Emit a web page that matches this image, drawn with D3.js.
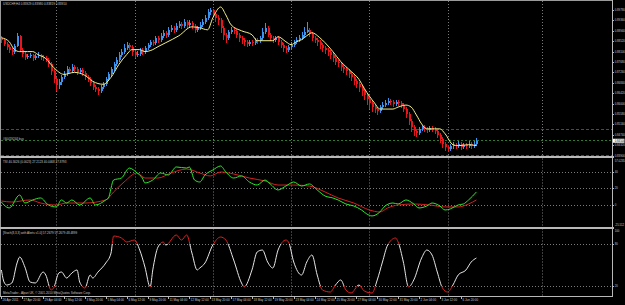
<!DOCTYPE html>
<html><head><meta charset="utf-8">
<script src="https://cdn.jsdelivr.net/npm/d3@7"></script>
<style>html,body{margin:0;padding:0;background:#000;overflow:hidden}svg{display:block}</style>
</head><body>
<svg id="c" width="625" height="305"></svg>
<script>
// ---------------- DATA ----------------
const chartTitle = "USDCHF,H4  0.83929 0.83980 0.83819 0.83910";
const tsiTitle = "TSI 40.3026 (0.0023) 27.2123 40.0468 27.8793";
const stochTitle = "[Stoch(8,3,3) with Alerts v1.0] 57.2679 57.2679 48.4899";
const footerText = "MetaTrader - Alpari UK, \u00a9 2001-2010 MetaQuotes Software Corp.";
const orderLabel = "#60419244 buy";

const firstOpen = .8866;
const closes = [
.8858,.8842,.8830,.8818,.8810,.8834,.8874,.8818,.8802,.8790,
.8794,.8798,.8786,.8794,.8798,.8790,.8786,.8778,.8758,.8730,
.8698,.8674,.8686,.8706,.8718,.8738,.8730,.8746,.8738,.8726,
.8734,.8722,.8706,.8698,.8682,.8666,.8658,.8650,.8666,.8678,
.8698,.8718,.8738,.8758,.8778,.8798,.8810,.8826,.8838,.8830,
.8810,.8798,.8802,.8818,.8810,.8826,.8838,.8850,.8846,.8866,
.8858,.8874,.8886,.8878,.8898,.8906,.8898,.8914,.8922,.8914,
.8930,.8918,.8926,.8914,.8898,.8906,.8918,.8930,.8946,.8970,
.8978,.8962,.8946,.8938,.8906,.8878,.8866,.8890,.8898,.8894,
.8878,.8866,.8858,.8850,.8842,.8850,.8846,.8858,.8854,.8866,
.8890,.8906,.8878,.8866,.8858,.8866,.8850,.8838,.8826,.8818,
.8830,.8838,.8850,.8858,.8866,.8878,.8890,.8898,.8882,.8866,
.8858,.8850,.8838,.8826,.8818,.8810,.8798,.8786,.8770,.8762,
.8746,.8738,.8730,.8718,.8706,.8690,.8678,.8666,.8650,.8634,
.8618,.8602,.8586,.8578,.8570,.8586,.8594,.8602,.8610,.8606,
.8598,.8606,.8602,.8594,.8578,.8558,.8530,.8506,.8490,.8482,
.8498,.8506,.8498,.8494,.8502,.8498,.8490,.8474,.8458,.8438,
.8426,.8418,.8430,.8434,.8430,.8438,.8426,.8434,.8430,.8438,
.8430,.8438,.8450];
const highs = [
.8874,.8862,.8850,.8838,.8826,.8842,.8886,.8878,.8826,.8810,
.8802,.8806,.8802,.8802,.8810,.8802,.8798,.8794,.8786,.8766,
.8738,.8706,.8698,.8714,.8730,.8750,.8746,.8758,.8754,.8746,
.8742,.8742,.8730,.8714,.8706,.8690,.8674,.8666,.8674,.8686,
.8706,.8726,.8746,.8766,.8790,.8810,.8822,.8842,.8850,.8846,
.8838,.8818,.8814,.8826,.8826,.8834,.8846,.8858,.8858,.8874,
.8874,.8886,.8898,.8894,.8910,.8918,.8914,.8926,.8934,.8930,
.8942,.8938,.8938,.8934,.8922,.8914,.8930,.8942,.8958,.8982,
.8986,.8982,.8970,.8958,.8946,.8914,.8886,.8898,.8910,.8906,
.8902,.8886,.8874,.8866,.8858,.8858,.8858,.8866,.8866,.8874,
.8906,.8926,.8914,.8886,.8874,.8874,.8874,.8858,.8846,.8834,
.8838,.8850,.8858,.8870,.8878,.8890,.8910,.8930,.8906,.8890,
.8874,.8866,.8858,.8846,.8834,.8826,.8818,.8806,.8794,.8778,
.8770,.8754,.8746,.8738,.8726,.8714,.8698,.8686,.8674,.8658,
.8642,.8626,.8610,.8594,.8586,.8594,.8606,.8614,.8622,.8618,
.8614,.8614,.8614,.8610,.8602,.8586,.8566,.8538,.8514,.8498,
.8506,.8514,.8514,.8506,.8510,.8510,.8506,.8498,.8482,.8466,
.8446,.8434,.8438,.8446,.8442,.8450,.8446,.8442,.8442,.8450,
.8446,.8450,.8462];
const lows = [
.8846,.8834,.8818,.8806,.8798,.8802,.8830,.8810,.8790,.8778,
.8782,.8786,.8774,.8778,.8786,.8778,.8774,.8766,.8746,.8714,
.8682,.8650,.8658,.8674,.8698,.8710,.8718,.8722,.8726,.8714,
.8718,.8710,.8694,.8686,.8670,.8654,.8646,.8634,.8642,.8658,
.8670,.8690,.8710,.8730,.8750,.8770,.8790,.8802,.8818,.8818,
.8794,.8786,.8790,.8794,.8798,.8802,.8818,.8830,.8834,.8838,
.8846,.8850,.8866,.8866,.8870,.8890,.8886,.8890,.8906,.8902,
.8906,.8906,.8910,.8902,.8886,.8890,.8898,.8910,.8922,.8938,
.8958,.8950,.8930,.8918,.8886,.8858,.8846,.8858,.8882,.8882,
.8866,.8850,.8842,.8834,.8830,.8834,.8834,.8838,.8842,.8846,
.8858,.8882,.8870,.8854,.8846,.8850,.8838,.8826,.8810,.8806,
.8810,.8822,.8830,.8842,.8850,.8858,.8870,.8886,.8870,.8854,
.8846,.8834,.8822,.8810,.8802,.8794,.8782,.8770,.8754,.8746,
.8730,.8722,.8714,.8702,.8690,.8674,.8662,.8646,.8630,.8614,
.8594,.8578,.8566,.8562,.8554,.8562,.8578,.8586,.8594,.8594,
.8586,.8590,.8590,.8582,.8566,.8542,.8514,.8486,.8470,.8466,
.8474,.8490,.8486,.8482,.8486,.8486,.8478,.8462,.8442,.8422,
.8410,.8406,.8410,.8418,.8418,.8422,.8414,.8418,.8418,.8422,
.8418,.8422,.8430];

// yellow moving average (read at selected bars)
const maBars = [0,3,5,7,10,12,14,17,20,24,28,32,35,39,42,45,48,50,53,55,58,60,63,68,73,76,79,81,84,86,88,92,96,98,101,104,106,109,111,113,115,117,119,122,124,127,130,134,137,139,141,143,145,147,150,152,155,157,159,161,163,166,168,170,173,175,179,182];
const maValues = [.8866,.8850,.8818,.8810,.8810,.8810,.8798,.8782,.8746,.8718,.8726,.8714,.8690,.8678,.8706,.8758,.8798,.8818,.8818,.8810,.8818,.8830,.8846,.8874,.8910,.8906,.8898,.8946,.8990,.8958,.8918,.8894,.8878,.8854,.8854,.8854,.8870,.8850,.8838,.8850,.8858,.8874,.8886,.8866,.8846,.8810,.8770,.8730,.8698,.8662,.8630,.8602,.8578,.8578,.8578,.8586,.8594,.8586,.8554,.8518,.8498,.8498,.8498,.8478,.8434,.8430,.8434,.8430];

// TSI (green) and signal (red)
const tsiBars = [0,1,3,7,9,12,15,18,21,23,25,27,30,34,36,40,41,43,46,49,52,54,55,58,61,64,67,71,72,74,76,78,81,84,86,89,92,95,98,101,103,106,109,112,115,118,121,124,127,129,132,135,138,140,142,145,147,150,152,155,158,160,163,165,168,170,172,175,177,179,182];
const tsiValues = [3.6,0,-3.6,12.1,2.4,6.1,8.5,0,-2.4,6.1,2.4,6.1,0,8.5,0,6.1,8.5,30.3,32.7,44.8,38.8,32.7,26.7,30.3,38.8,36.4,46.1,44.8,46.1,30.3,27.9,36.4,42.4,47.3,40.0,32.7,35.2,27.9,24.2,30.3,25.5,18.2,23.0,27.9,23.0,25.5,18.2,10.9,8.5,6.1,1.2,-1.2,-6.1,-10.9,-13.3,-8.5,-1.2,2.4,1.2,6.1,1.2,-3.6,-1.2,2.4,-1.2,-6.1,-4.8,0,1.2,6.1,15.8];
const sigBars = [0,4,11,15,21,25,32,40,43,47,52,55,60,65,71,76,80,84,89,95,101,106,112,118,124,129,135,141,145,148,152,158,164,170,175,179,182];
const sigValues = [4.8,3.6,6.1,2.4,0,2.4,2.4,6.1,15.8,27.9,38.8,32.7,32.7,38.8,43.6,38.8,35.2,40.0,37.6,32.7,29.1,24.2,24.2,23.0,15.8,8.5,2.4,-6.1,-8.5,-3.6,0,1.2,0,-2.4,-2.4,1.2,6.1];

// Stochastic %K
const stochBars = [0,1,2,4,6,7,9,11,13,16,17,19,20,22,23,25,27,29,30,32,34,35,37,40,42,43,46,48,51,53,55,57,58,60,62,63,67,69,71,73,75,76,78,81,84,86,89,92,93,96,98,100,102,104,106,109,110,112,115,117,119,121,123,126,128,130,132,134,137,139,142,144,146,148,151,152,154,156,158,161,163,165,167,169,171,173,175,178,180,182];
const stochValues = [42.9,25.7,21.4,24.3,52.9,61.4,47.1,25.7,24.3,40,35.7,14.3,17.1,38.6,40,31.4,38.6,42.9,25.7,17.1,35.7,31.4,40,52.9,67.1,91.4,88.6,82.9,85.7,71.4,47.1,18.6,42.9,75.7,82.9,78.6,92.9,85.7,92.9,67.1,42.9,45.7,52.9,78.6,90,85.7,57.1,24.3,18.6,42.9,68.6,71.4,54.3,45.7,71.4,85.7,82.9,54.3,35.7,54.3,64.3,35.7,14.3,11.4,21.4,28.6,14.3,10,21.4,12.9,10,28.6,54.3,78.6,88.6,82.9,54.3,18.6,28.6,60,71.4,64.3,40,17.1,11.4,21.4,35.7,42.9,54.3,60];

const timeLabels = ["26 Apr 2011","27 Apr 20:00","29 Apr 04:00","2 May 12:00","3 May 20:00","5 May 04:00","6 May 12:00","9 May 20:00","11 May 04:00","12 May 12:00","13 May 20:00","17 May 04:00","18 May 12:00","19 May 20:00","23 May 04:00","24 May 12:00","25 May 20:00","27 May 04:00","30 May 12:00","31 May 20:00","2 Jun 04:00","3 Jun 12:00","6 Jun 20:00"];
const timeLabelStep = 8; // bars between time labels
const priceTicks = [0.8978,0.8936,0.8894,0.8852,0.8810,0.8768,0.8726,0.8684,0.8642,0.8600,0.8558,0.8516,0.8474,0.8432,0.8390];
const tsiTicks = [40,20,0];
const tsiMaxLabel = "57.0235";
const tsiMinLabel = "-25.512";
const stochTicks = [80,20];
const stochMaxLabel = "100";
const orderLevels = [0.8498, 0.8451, 0.8392];
const orderKinds = ["tp","open","sl"];
const gridBars = [21,51,81,111,141,171,207];

// ---------------- DRAWING ----------------
const svg = d3.select("#c");
const AXX = 612.5;
const P = {main:[1,156], tsi:[158.5,226.5], st:[228.5,296]};
const x = d3.scaleLinear().domain([0,182]).range([1.4, 1.4+182*2.61]);
const yP = d3.scaleLinear().domain([0.8978, 0.8390]).range([10, 155.6]);
const yT = d3.scaleLinear().domain([-25.5, 57]).range([226, 158]);
const yS = d3.scaleLinear().domain([5.7, 102.9]).range([296, 228]);

svg.append("rect").attr("width",625).attr("height",305).attr("fill","#000");
const defs = svg.append("defs");
function clip(id,x0,y0,x1,y1){defs.append("clipPath").attr("id",id).append("rect").attr("x",x0).attr("y",y0).attr("width",x1-x0).attr("height",y1-y0);}
clip("cm",1,1,AXX,P.main[1]);
clip("ct",1,P.tsi[0],AXX,P.tsi[1]);
clip("cs",1,P.st[0],AXX,P.st[1]);
clip("csHi",1,P.st[0],AXX,yS(80));
clip("csMid",1,yS(80),AXX,yS(20));
clip("csLo",1,yS(20),AXX,P.st[1]);

const font = "'Liberation Sans', Arial, sans-serif";
const txtCol = "#c8c8c8";

// vertical grid (all panels)
const grid = svg.append("g").attr("stroke","#7a7a7a").attr("stroke-width",1).attr("stroke-dasharray","1,2");
gridBars.forEach(b=>{
  const gx = Math.round(x(b))+0.5;
  [[P.main[0],P.main[1]],[P.tsi[0],P.tsi[1]],[P.st[0],P.st[1]]].forEach(([a,c])=>
    grid.append("line").attr("x1",gx).attr("x2",gx).attr("y1",a).attr("y2",c));
});

// level lines
const lv = svg.append("g").attr("stroke","#7a7a7a").attr("stroke-dasharray","1,2");
tsiTicks.forEach(v=>lv.append("line").attr("x1",1).attr("x2",AXX).attr("y1",Math.round(yT(v))+0.5).attr("y2",Math.round(yT(v))+0.5));
stochTicks.forEach(v=>lv.append("line").attr("x1",1).attr("x2",AXX).attr("y1",Math.round(yS(v))+0.5).attr("y2",Math.round(yS(v))+0.5));

// order lines
const ol = svg.append("g").attr("clip-path","url(#cm)");
orderLevels.forEach((p,i)=>{
  const yy = Math.round(yP(p))+0.5;
  ol.append("line").attr("x1",1).attr("x2",AXX).attr("y1",yy).attr("y2",yy)
    .attr("stroke", orderKinds[i]==="open" ? "#2f7a2f" : "#9a2a2a")
    .attr("stroke-dasharray", orderKinds[i]==="open" ? "2,2" : "3,2");
});
svg.append("text").attr("x",3).attr("y",Math.round(yP(orderLevels[1]))-0.5).text(orderLabel)
  .attr("font-family",font).attr("font-size",3).attr("fill",txtCol);

// candles
const cg = svg.append("g").attr("clip-path","url(#cm)").attr("shape-rendering","crispEdges");
closes.forEach((c,i)=>{
  const o = i===0 ? firstOpen : closes[i-1];
  const col = c>=o ? "#3b93f0" : "#ea1519";
  const cx = Math.round(x(i));
  cg.append("line").attr("x1",cx+0.5).attr("x2",cx+0.5).attr("y1",yP(highs[i])).attr("y2",yP(lows[i])).attr("stroke",col);
  const y0 = Math.min(yP(o),yP(c)), h = Math.max(1,Math.abs(yP(o)-yP(c)));
  cg.append("rect").attr("x",cx-0.5).attr("y",y0).attr("width",2).attr("height",h).attr("fill",col);
});

// yellow MA
const lineGen = (xs,ys,ysc,curve)=>d3.line().x(d=>x(d[0])).y(d=>ysc(d[1])).curve(curve)(xs.map((b,i)=>[b,ys[i]]));
svg.append("path").attr("clip-path","url(#cm)").attr("d",lineGen(maBars,maValues,yP,d3.curveMonotoneX))
  .attr("fill","none").attr("stroke","#f4f08a").attr("stroke-width",1);

// TSI panel
svg.append("path").attr("clip-path","url(#ct)").attr("d",lineGen(sigBars,sigValues,yT,d3.curveMonotoneX))
  .attr("fill","none").attr("stroke","#d62020").attr("stroke-width",1);
svg.append("path").attr("clip-path","url(#ct)").attr("d",lineGen(tsiBars,tsiValues,yT,d3.curveMonotoneX))
  .attr("fill","none").attr("stroke","#2ee62e").attr("stroke-width",1);

// Stochastic
const sd = lineGen(stochBars,stochValues,yS,d3.curveMonotoneX);
[["csMid","#e6e6e6"],["csHi","#e02020"],["csLo","#e02020"]].forEach(([cid,col])=>
  svg.append("path").attr("clip-path",`url(#${cid})`).attr("d",sd).attr("fill","none").attr("stroke",col).attr("stroke-width",1));

// frames / separators
const fr = svg.append("g").attr("shape-rendering","crispEdges");
fr.append("rect").attr("x",0).attr("y",0).attr("width",AXX).attr("height",1).attr("fill","#9a9a9a");
fr.append("rect").attr("x",0).attr("y",0).attr("width",1).attr("height",297).attr("fill","#9a9a9a");
fr.append("rect").attr("x",0).attr("y",156).attr("width",AXX+1).attr("height",2).attr("fill","#b8b8b8");
fr.append("rect").attr("x",0).attr("y",226.5).attr("width",AXX+1).attr("height",2).attr("fill","#b8b8b8");
fr.append("line").attr("x1",0).attr("x2",AXX).attr("y1",296.5).attr("y2",296.5).attr("stroke","#b8b8b8");
fr.append("line").attr("x1",AXX).attr("x2",AXX).attr("y1",0).attr("y2",297).attr("stroke","#b8b8b8");

// right axis labels
const LBLX = AXX + 2.2;
const ax = svg.append("g").attr("font-family",font).attr("font-size",2.8).attr("fill",txtCol);
function rlabel(yy,t){
  fr.append("line").attr("x1",AXX).attr("x2",AXX+1.5).attr("y1",Math.round(yy)+0.5).attr("y2",Math.round(yy)+0.5).attr("stroke","#b8b8b8");
  ax.append("text").attr("x",LBLX).attr("y",yy+1).text(t);
}
priceTicks.forEach(p=>{ if(yP(p)<=156) rlabel(yP(p), p.toFixed(5)); });
// current price box
const cy = yP(closes[closes.length-1]);
svg.append("rect").attr("x",AXX+0.5).attr("y",cy-2).attr("width",11.5).attr("height",4).attr("fill","#ffffff");
svg.append("text").attr("x",LBLX).attr("y",cy+1).text(closes[closes.length-1].toFixed(5))
  .attr("font-family",font).attr("font-size",2.8).attr("fill","#000");
ax.append("text").attr("x",LBLX).attr("y",161.5).text(tsiMaxLabel);
tsiTicks.forEach(v=>rlabel(yT(v), String(v)));
ax.append("text").attr("x",LBLX).attr("y",225.5).text(tsiMinLabel);
ax.append("text").attr("x",LBLX).attr("y",231.5).text(stochMaxLabel);
stochTicks.forEach(v=>rlabel(yS(v), String(v)));

// time axis
const tx = svg.append("g").attr("font-family",font).attr("font-size",3).attr("fill",txtCol);
timeLabels.forEach((t,k)=>{
  const px = Math.round(x(k*timeLabelStep))+0.5;
  fr.append("line").attr("x1",px).attr("x2",px).attr("y1",296.5).attr("y2",298.5).attr("stroke","#b8b8b8");
  tx.append("text").attr("x",px+1).attr("y",300.8).text(t);
});

// titles
const tt = svg.append("g").attr("font-family",font).attr("font-size",3).attr("fill",txtCol);
tt.append("text").attr("x",3).attr("y",5).text(chartTitle);
tt.append("text").attr("x",3).attr("y",163).text(tsiTitle);
tt.append("text").attr("x",3).attr("y",233.5).text(stochTitle);
tt.append("text").attr("x",3).attr("y",294).text(footerText);
</script>
</body></html>
